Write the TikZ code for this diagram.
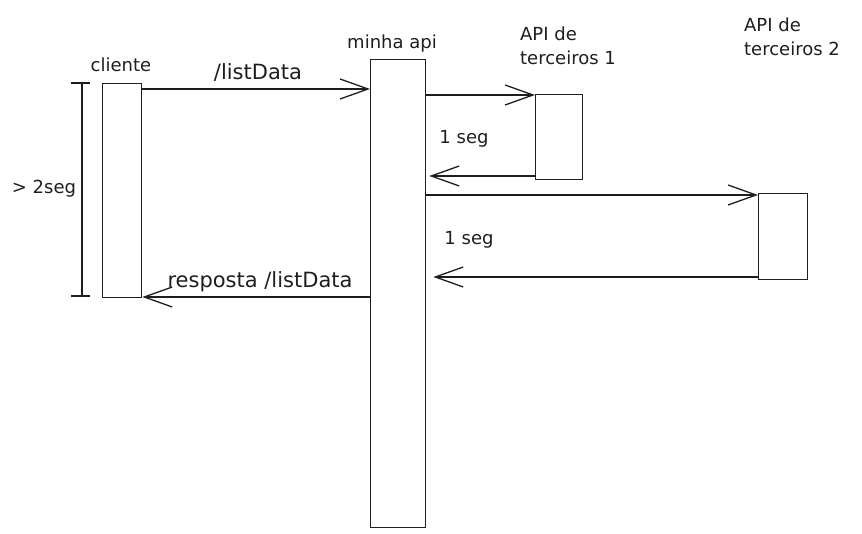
\documentclass[tikz,border=0pt]{standalone}
\usepackage{fontspec}
\setmainfont{DejaVu Sans}
\usetikzlibrary{arrows.meta}
\definecolor{ink}{HTML}{1E1E1E}
\tikzset{
	box/.style={draw=ink, line width=1.3pt, rectangle, inner sep=0pt, anchor=north west},
	lbl/.style={text=ink, inner sep=0pt, font=\fontsize{18}{24}\selectfont},
	biglbl/.style={lbl, font=\fontsize{21}{25}\selectfont},
	msg/.style={draw=ink, line width=1.3pt, -{Straight Barb[length=28pt,width=20pt]}},
}
\begin{document}
\begin{tikzpicture}[x=1pt,y=-1pt]
	\useasboundingbox (0,0) rectangle (862,534);

	% participantes
	\draw (102,83) node[box, minimum width=39pt, minimum height=214pt] (cliente) {};
	\draw (370,59) node[box, minimum width=55pt, minimum height=468pt] (api) {};
	\draw (535,94) node[box, minimum width=47pt, minimum height=85pt] (ter1) {};
	\draw (758,193) node[box, minimum width=49pt, minimum height=86pt] (ter2) {};

	\draw (121,65) node[lbl] (lcliente) {cliente};
	\draw (392,44) node[lbl] (lapi) {minha api};
	\draw (568,46) node[lbl, align=left] (lter1) {API de\\terceiros 1};
	\draw (792,37) node[lbl, align=left] (lter2) {API de\\terceiros 2};

	% tempo total
	\draw[ink, line width=1.3pt] (82,83) -- (82,296);
	\draw[ink, line width=1.3pt] (71,83) -- (90,83);
	\draw[ink, line width=1.3pt] (71,296) -- (90,296);
	\draw (44,189) node[lbl] (ltotal) {> 2seg};

	% mensagens
	\draw[msg] (cliente.east |- 0,89) -- (api.west |- 0,89);
	\draw (258,73) node[biglbl] (llist) {/listData};
	\draw[msg] (api.west |- 0,297) -- (cliente.east |- 0,297);
	\draw (260,282) node[biglbl] (lresp) {resposta /listData};

	\draw[msg] (api.east |- 0,95) -- (ter1.west |- 0,95);
	\draw[msg, shorten >=3pt] (ter1.west |- 0,176) -- (api.east |- 0,176);
	\draw (464,139) node[lbl] (lseg1) {1 seg};

	\draw[msg] (api.east |- 0,195) -- (ter2.west |- 0,195);
	\draw[msg, shorten >=7pt] (ter2.west |- 0,277) -- (api.east |- 0,277);
	\draw (469,240) node[lbl] (lseg2) {1 seg};
\end{tikzpicture}
\end{document}
